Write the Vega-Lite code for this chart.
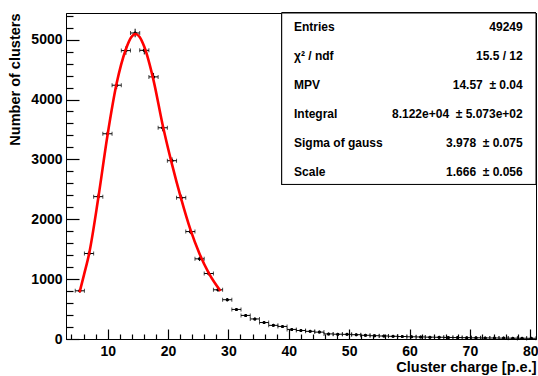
{
  "$schema": "https://vega.github.io/schema/vega-lite/v6.json",
  "width": 470,
  "height": 326,
  "autosize": {"type": "none"},
  "padding": {"left": 66, "top": 13, "right": 2, "bottom": 37},
  "background": "white",
  "config": {
    "view": {"stroke": "black", "strokeWidth": 1},
    "font": "Liberation Sans",
    "axis": {
      "domainColor": "black", "ticks": true, "tickColor": "black", "tickWidth": 1.2, "tickOpacity": 1,
      "labelFont": "Liberation Sans", "labelFontWeight": "bold", "labelFontSize": 14, "labelColor": "black",
      "titleFont": "Liberation Sans", "titleFontWeight": "bold", "titleFontSize": 14.5, "titleColor": "black",
      "grid": false, "labelOverlap": false
    }
  },
  "datasets": {
    "hist": [
      {"x": 5.39, "xlo": 4.63, "xhi": 6.15, "n": 805, "lo": 777, "hi": 833},
      {"x": 6.92, "xlo": 6.15, "xhi": 7.68, "n": 1428, "lo": 1390, "hi": 1466},
      {"x": 8.44, "xlo": 7.68, "xhi": 9.2, "n": 2378, "lo": 2329, "hi": 2427},
      {"x": 9.97, "xlo": 9.2, "xhi": 10.73, "n": 3428, "lo": 3369, "hi": 3487},
      {"x": 11.49, "xlo": 10.73, "xhi": 12.26, "n": 4239, "lo": 4174, "hi": 4304},
      {"x": 13.02, "xlo": 12.26, "xhi": 13.78, "n": 4817, "lo": 4748, "hi": 4886},
      {"x": 14.55, "xlo": 13.78, "xhi": 15.31, "n": 5111, "lo": 5040, "hi": 5182},
      {"x": 16.07, "xlo": 15.31, "xhi": 16.83, "n": 4822, "lo": 4753, "hi": 4891},
      {"x": 17.6, "xlo": 16.83, "xhi": 18.36, "n": 4378, "lo": 4312, "hi": 4444},
      {"x": 19.12, "xlo": 18.36, "xhi": 19.89, "n": 3528, "lo": 3469, "hi": 3587},
      {"x": 20.65, "xlo": 19.89, "xhi": 21.41, "n": 2978, "lo": 2923, "hi": 3033},
      {"x": 22.18, "xlo": 21.41, "xhi": 22.94, "n": 2361, "lo": 2312, "hi": 2410},
      {"x": 23.7, "xlo": 22.94, "xhi": 24.46, "n": 1794, "lo": 1752, "hi": 1836},
      {"x": 25.23, "xlo": 24.46, "xhi": 25.99, "n": 1339, "lo": 1302, "hi": 1376},
      {"x": 26.75, "xlo": 25.99, "xhi": 27.52, "n": 1094, "lo": 1061, "hi": 1127},
      {"x": 28.28, "xlo": 27.52, "xhi": 29.04, "n": 822, "lo": 793, "hi": 851},
      {"x": 29.81, "xlo": 29.04, "xhi": 30.57, "n": 656, "lo": 630, "hi": 682},
      {"x": 31.33, "xlo": 30.57, "xhi": 32.09, "n": 494, "lo": 472, "hi": 516},
      {"x": 32.86, "xlo": 32.09, "xhi": 33.62, "n": 394, "lo": 374, "hi": 414},
      {"x": 34.38, "xlo": 33.62, "xhi": 35.15, "n": 335, "lo": 317, "hi": 353},
      {"x": 35.91, "xlo": 35.15, "xhi": 36.67, "n": 275, "lo": 258, "hi": 292},
      {"x": 37.44, "xlo": 36.67, "xhi": 38.2, "n": 228, "lo": 213, "hi": 243},
      {"x": 38.96, "xlo": 38.2, "xhi": 39.72, "n": 210, "lo": 195, "hi": 225},
      {"x": 40.49, "xlo": 39.72, "xhi": 41.25, "n": 160, "lo": 147, "hi": 173},
      {"x": 42.01, "xlo": 41.25, "xhi": 42.78, "n": 142, "lo": 130, "hi": 154},
      {"x": 43.54, "xlo": 42.78, "xhi": 44.3, "n": 128, "lo": 117, "hi": 139},
      {"x": 45.07, "xlo": 44.3, "xhi": 45.83, "n": 115, "lo": 104, "hi": 126},
      {"x": 46.59, "xlo": 45.83, "xhi": 47.35, "n": 85, "lo": 76, "hi": 94},
      {"x": 48.12, "xlo": 47.35, "xhi": 48.88, "n": 80, "lo": 71, "hi": 89},
      {"x": 49.64, "xlo": 48.88, "xhi": 50.41, "n": 78, "lo": 69, "hi": 87},
      {"x": 51.17, "xlo": 50.41, "xhi": 51.93, "n": 72, "lo": 63, "hi": 80},
      {"x": 52.7, "xlo": 51.93, "xhi": 53.46, "n": 62, "lo": 54, "hi": 70},
      {"x": 54.22, "xlo": 53.46, "xhi": 54.98, "n": 55, "lo": 48, "hi": 62},
      {"x": 55.75, "xlo": 54.98, "xhi": 56.51, "n": 50, "lo": 43, "hi": 57},
      {"x": 57.27, "xlo": 56.51, "xhi": 58.04, "n": 45, "lo": 38, "hi": 52},
      {"x": 58.8, "xlo": 58.04, "xhi": 59.56, "n": 41, "lo": 35, "hi": 47},
      {"x": 60.33, "xlo": 59.56, "xhi": 61.09, "n": 37, "lo": 31, "hi": 43},
      {"x": 61.85, "xlo": 61.09, "xhi": 62.61, "n": 34, "lo": 28, "hi": 40},
      {"x": 63.38, "xlo": 62.61, "xhi": 64.14, "n": 31, "lo": 25, "hi": 37},
      {"x": 64.9, "xlo": 64.14, "xhi": 65.67, "n": 29, "lo": 24, "hi": 34},
      {"x": 66.43, "xlo": 65.67, "xhi": 67.19, "n": 26, "lo": 21, "hi": 31},
      {"x": 67.96, "xlo": 67.19, "xhi": 68.72, "n": 24, "lo": 19, "hi": 29},
      {"x": 69.48, "xlo": 68.72, "xhi": 70.24, "n": 22, "lo": 17, "hi": 27},
      {"x": 71.01, "xlo": 70.24, "xhi": 71.77, "n": 20, "lo": 16, "hi": 24},
      {"x": 72.53, "xlo": 71.77, "xhi": 73.3, "n": 18, "lo": 14, "hi": 22},
      {"x": 74.06, "xlo": 73.3, "xhi": 74.82, "n": 17, "lo": 13, "hi": 21},
      {"x": 75.59, "xlo": 74.82, "xhi": 76.35, "n": 15, "lo": 11, "hi": 19},
      {"x": 77.11, "xlo": 76.35, "xhi": 77.87, "n": 14, "lo": 10, "hi": 18},
      {"x": 78.64, "xlo": 77.87, "xhi": 79.4, "n": 13, "lo": 9, "hi": 17},
      {"x": 80.16, "xlo": 79.4, "xhi": 80.93, "n": 12, "lo": 8, "hi": 16}
    ],
    "fit": [
      {"x": 5.35, "y": 780},
      {"x": 6.1, "y": 1080},
      {"x": 6.92, "y": 1420},
      {"x": 8.44, "y": 2350},
      {"x": 9.97, "y": 3400},
      {"x": 11.49, "y": 4270},
      {"x": 13.02, "y": 4840},
      {"x": 13.9, "y": 5040},
      {"x": 14.6, "y": 5095},
      {"x": 15.3, "y": 5045},
      {"x": 16.07, "y": 4880},
      {"x": 17.6, "y": 4320},
      {"x": 19.12, "y": 3570},
      {"x": 20.65, "y": 2920},
      {"x": 22.18, "y": 2340},
      {"x": 23.7, "y": 1830},
      {"x": 25.23, "y": 1420},
      {"x": 26.75, "y": 1100},
      {"x": 28.7, "y": 800}
    ],
    "stats": [
      {"row": 0, "label": "Entries", "value": "49249"},
      {"row": 1, "label": "χ² / ndf", "value": "15.5 / 12"},
      {"row": 2, "label": "MPV", "value": "14.57\u00a0 ± 0.04"},
      {"row": 3, "label": "Integral", "value": "8.122e+04\u00a0 ± 5.073e+02"},
      {"row": 4, "label": "Sigma of gauss", "value": "3.978\u00a0 ± 0.075"},
      {"row": 5, "label": "Scale", "value": "1.666\u00a0 ± 0.056"}
    ]
  },
  "layer": [
    {
      "layer": [
        {
          "data": {"name": "hist"},
          "mark": {"type": "point", "filled": true, "color": "black", "size": 9, "opacity": 1},
          "encoding": {
            "x": {"field": "x", "type": "quantitative", "scale": {"domain": [3.1, 80.95], "nice": false, "zero": false},
              "axis": {
                "orient": "bottom",
                "values": [10, 20, 30, 40, 50, 60, 70, 80],
                "ticks": true,
                "tickSize": -10,
                "labelPadding": 15,
                "labelFlush": false,
                "zindex": 1,
                "title": "Cluster charge [p.e.]",
                "titleAnchor": "end",
                "titlePadding": 2
              }},
            "y": {"field": "n", "type": "quantitative", "scale": {"domain": [0, 5445], "nice": false},
              "axis": {
                "orient": "left",
                "values": [0, 1000, 2000, 3000, 4000, 5000],
                "format": "d",
                "ticks": true,
                "tickSize": -13,
                "labelPadding": 17,
                "labelFlush": false,
                "zindex": 1,
                "title": "Number of clusters",
                "titleAnchor": "end",
                "titlePadding": 8
              }}
          }
        },
        {
          "data": {"name": "hist"},
          "mark": {"type": "point", "filled": true, "color": "black", "size": 9, "opacity": 1},
          "encoding": {
            "x": {"field": "x", "type": "quantitative",
              "axis": {
                "orient": "bottom",
                "values": [4,6,8,12,14,16,18,22,24,26,28,32,34,36,38,42,44,46,48,52,54,56,58,62,64,66,68,72,74,76,78],
                "ticks": true,
                "tickSize": -5,
                "labels": false,
                "domain": false,
                "zindex": 1,
                "title": null
              }},
            "y": {"field": "n", "type": "quantitative",
              "axis": {
                "orient": "left",
                "values": [200,400,600,800,1200,1400,1600,1800,2200,2400,2600,2800,3200,3400,3600,3800,4200,4400,4600,4800,5200,5400],
                "ticks": true,
                "tickSize": -7,
                "labels": false,
                "domain": false,
                "zindex": 1,
                "title": null
              }}
          }
        },
        {
          "data": {"name": "hist"},
          "mark": {"type": "rule", "color": "black", "strokeWidth": 1},
          "encoding": {
            "x": {"field": "xlo", "type": "quantitative", "axis": null},
            "x2": {"field": "xhi"},
            "y": {"field": "n", "type": "quantitative", "axis": null}
          }
        },
        {
          "data": {"name": "hist"},
          "mark": {"type": "rule", "color": "black", "strokeWidth": 1},
          "encoding": {
            "x": {"field": "x", "type": "quantitative", "axis": null},
            "y": {"field": "lo", "type": "quantitative", "axis": null},
            "y2": {"field": "hi"}
          }
        },
        {
          "data": {"name": "hist"},
          "mark": {"type": "tick", "orient": "vertical", "color": "black", "thickness": 1, "size": 4},
          "encoding": {
            "x": {"field": "xlo", "type": "quantitative", "axis": null},
            "y": {"field": "n", "type": "quantitative", "axis": null}
          }
        },
        {
          "data": {"name": "hist"},
          "mark": {"type": "tick", "orient": "vertical", "color": "black", "thickness": 1, "size": 4},
          "encoding": {
            "x": {"field": "xhi", "type": "quantitative", "axis": null},
            "y": {"field": "n", "type": "quantitative", "axis": null}
          }
        },
        {
          "data": {"name": "fit"},
          "mark": {"type": "line", "color": "#ff0000", "strokeWidth": 2.6, "interpolate": "monotone"},
          "encoding": {
            "x": {"field": "x", "type": "quantitative", "axis": null},
            "y": {"field": "y", "type": "quantitative", "axis": null}
          }
        }
      ],
      "resolve": {"axis": {"x": "independent", "y": "independent"}}
    },
    {
      "data": {"name": "stats"},
      "layer": [
        {
          "mark": {"type": "rect", "fill": "white", "stroke": "black", "strokeWidth": 1},
          "encoding": {
            "x": {"datum": 38.83, "type": "quantitative", "axis": null},
            "x2": {"datum": 80.95},
            "y": {"datum": -0.483, "type": "quantitative", "scale": {"domain": [-0.483, 10.769], "reverse": true, "nice": false, "zero": false}, "axis": null},
            "y2": {"datum": 5.434}
          }
        },
        {
          "mark": {"type": "text", "align": "left", "baseline": "middle", "font": "Liberation Sans", "fontWeight": "bold", "fontSize": 12, "color": "black"},
          "encoding": {
            "x": {"datum": 40.87, "type": "quantitative", "axis": null},
            "y": {"field": "row", "type": "quantitative", "axis": null},
            "text": {"field": "label"}
          }
        },
        {
          "mark": {"type": "text", "align": "right", "baseline": "middle", "font": "Liberation Sans", "fontWeight": "bold", "fontSize": 12, "color": "black"},
          "encoding": {
            "x": {"datum": 78.75, "type": "quantitative", "axis": null},
            "y": {"field": "row", "type": "quantitative", "axis": null},
            "text": {"field": "value"}
          }
        }
      ]
    }
  ],
  "resolve": {"scale": {"y": "independent"}}
}
